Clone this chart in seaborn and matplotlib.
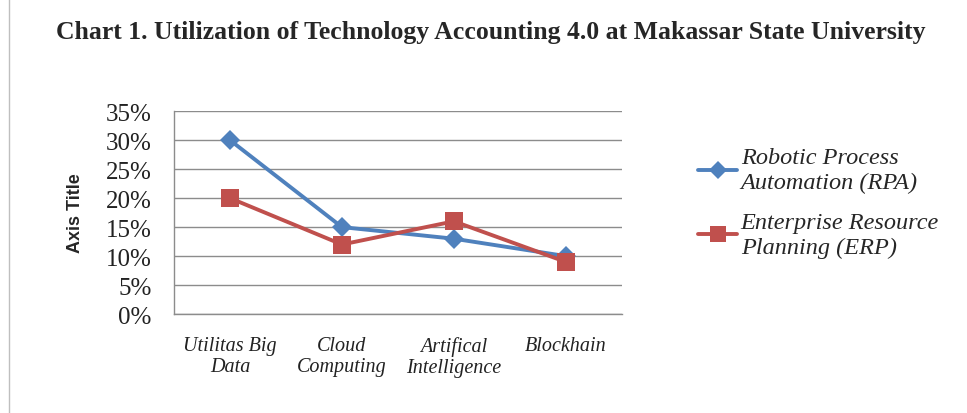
import pandas as pd
import seaborn as sns
import matplotlib.pyplot as plt
from matplotlib.lines import Line2D
from matplotlib.ticker import PercentFormatter

categories = ['Utilitas Big\nData', 'Cloud\nComputing', 'Artifical\nIntelligence', 'Blockhain']
rpa = [30, 15, 13, 10]
erp = [20, 12, 16, 9]
series_names = ['Robotic Process\nAutomation (RPA)', 'Enterprise Resource\nPlanning (ERP)']
y_ticks = [0, 5, 10, 15, 20, 25, 30, 35]

df = pd.DataFrame({
    'category': categories * 2,
    'value': rpa + erp,
    'series': [series_names[0]] * 4 + [series_names[1]] * 4,
})

sns.set_style('white')
plt.rcParams['font.family'] = ['Liberation Serif', 'DejaVu Serif']

colors = {series_names[0]: '#4F81BD', series_names[1]: '#C0504D'}
markers = {series_names[0]: 'D', series_names[1]: 's'}
msizes = {series_names[0]: 10, series_names[1]: 12.5}

fig = plt.figure(figsize=(9.67, 4.14), dpi=100, facecolor='white')
ax = fig.add_axes([0.180, 0.239, 0.463, 0.490])

sns.lineplot(data=df, x='category', y='value', hue='series', style='series',
             markers=markers, dashes=False, palette=colors, linewidth=2.8,
             markersize=10, markeredgewidth=0, ax=ax, legend=False, sort=False)
# different marker sizes per series
for line, name in zip(ax.get_lines(), series_names):
    line.set_markersize(msizes[name])

ax.set_ylim(0, 35)
ax.set_xlim(-0.5, 3.5)
ax.set_yticks(y_ticks)
ax.yaxis.set_major_formatter(PercentFormatter(decimals=0))
ax.yaxis.grid(True, color='#8c8c8c', linewidth=1)
ax.set_axisbelow(True)
for s in ['top', 'right']:
    ax.spines[s].set_visible(False)
for s in ['left', 'bottom']:
    ax.spines[s].set_color('#8c8c8c')
    ax.spines[s].set_linewidth(1)
ax.tick_params(axis='y', labelsize=18, length=0, pad=16, labelcolor='#222222')
ax.tick_params(axis='x', labelsize=14.5, length=0, pad=16, labelcolor='#222222')
for lab in ax.get_xticklabels():
    lab.set_fontstyle('italic')
    lab.set_linespacing(1.15)
ax.set_xlabel('')
ax.set_ylabel('Axis Title', fontsize=13, fontweight='bold',
              family=['Liberation Sans', 'DejaVu Sans'], labelpad=16)

fig.text(0.507, 0.922, 'Chart 1. Utilization of Technology Accounting 4.0 at Makassar State University',
         ha='center', va='center', fontsize=18.5, fontweight='bold')

handles = [Line2D([0], [0], color=colors[n], marker=markers[n], markersize=msizes[n] * 0.9,
                  markeredgewidth=0, linewidth=2.8) for n in series_names]
leg = fig.legend(handles, series_names, loc='upper left', bbox_to_anchor=(0.722, 0.642),
                 frameon=False, prop={'size': 17.5, 'style': 'italic'},
                 handlelength=1.6, labelspacing=0.75, handletextpad=0.15,
                 borderpad=0, borderaxespad=0)
for t in leg.get_texts():
    t.set_linespacing(1.25)

# left frame edge of the chart area
fig.add_artist(Line2D([0.009, 0.009], [0.0, 1.0], color='#bfbfbf', linewidth=1,
                      transform=fig.transFigure))

fig.savefig('out.png', dpi=100, facecolor='white')
